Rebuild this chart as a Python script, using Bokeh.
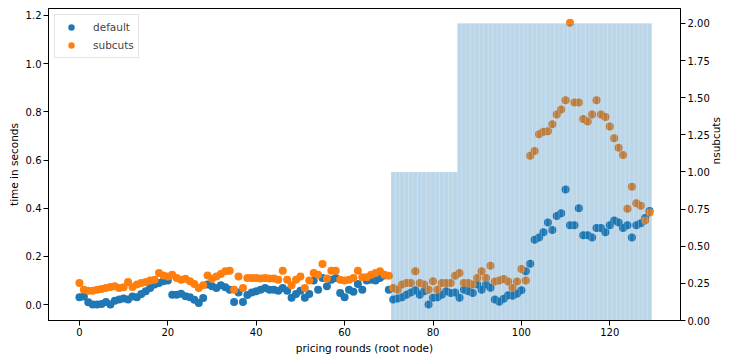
import math
from bokeh.plotting import figure
from bokeh.models import (Range1d, LinearAxis, FixedTicker, NumeralTickFormatter,
                          Legend, LegendItem, ColumnDataSource)
from bokeh.embed import file_html
from bokeh.resources import INLINE

# time in seconds per pricing round (root node)
default_t = [
    0.030, 0.034, 0.010, 0.000, 0.000, 0.003, 0.011, 0.000, 0.016, 0.021,
    0.025, 0.021, 0.034, 0.030, 0.044, 0.055, 0.069, 0.083, 0.090, 0.097,
    0.100, 0.041, 0.041, 0.045, 0.035, 0.030, 0.020, 0.007, 0.027, 0.083,
    0.076, 0.069, 0.080, 0.072, 0.062, 0.011, 0.050, 0.011, 0.040, 0.050,
    0.055, 0.062, 0.069, 0.062, 0.062, 0.058, 0.069, 0.058, 0.028, 0.044,
    0.058, 0.028, 0.044, 0.100, 0.062, 0.110, 0.076, 0.103, 0.110, 0.048,
    0.030, 0.062, 0.053, 0.085, 0.062, 0.100, 0.103, 0.100, 0.110, 0.121,
    0.062, 0.021, 0.025, 0.030, 0.041, 0.050, 0.060, 0.041, 0.055, 0.000,
    0.028, 0.030, 0.041, 0.055, 0.048, 0.050, 0.028, 0.062, 0.055, 0.048,
    0.083, 0.062, 0.083, 0.070, 0.021, 0.012, 0.024, 0.039, 0.037, 0.045,
    0.060, 0.138, 0.170, 0.269, 0.279, 0.300, 0.341, 0.310, 0.368, 0.379,
    0.478, 0.329, 0.329, 0.400, 0.288, 0.288, 0.279, 0.318, 0.318, 0.300,
    0.329, 0.349, 0.341, 0.318, 0.329, 0.279, 0.329, 0.338, 0.359, 0.389,
]
subcuts_t = [
    0.090, 0.062, 0.058, 0.058, 0.062, 0.065, 0.069, 0.073, 0.076, 0.069,
    0.072, 0.094, 0.073, 0.083, 0.090, 0.094, 0.100, 0.103, 0.131, 0.121,
    0.117, 0.124, 0.110, 0.103, 0.107, 0.097, 0.086, 0.069, 0.080, 0.121,
    0.107, 0.117, 0.127, 0.138, 0.141, 0.062, 0.117, 0.069, 0.110, 0.110,
    0.110, 0.108, 0.110, 0.108, 0.108, 0.103, 0.141, 0.103, 0.080, 0.103,
    0.117, 0.069, 0.100, 0.131, 0.124, 0.168, 0.108, 0.141, 0.141, 0.103,
    0.100, 0.103, 0.110, 0.141, 0.113, 0.113, 0.124, 0.131, 0.138, 0.124,
    0.120, 0.069, 0.062, 0.083, 0.090, 0.090, 0.138, 0.090, 0.083, 0.062,
    0.097, 0.062, 0.090, 0.090, 0.090, 0.120, 0.131, 0.090, 0.090, 0.083,
    0.110, 0.138, 0.110, 0.161, 0.096, 0.100, 0.106, 0.096, 0.069, 0.096,
    0.148, 0.100, 0.618, 0.638, 0.707, 0.717, 0.720, 0.749, 0.789, 0.810,
    0.848, 1.170, 0.839, 0.839, 0.770, 0.760, 0.789, 0.848, 0.789, 0.779,
    0.739, 0.690, 0.651, 0.621, 0.398, 0.489, 0.421, 0.410, 0.349, 0.382,
]
rounds = list(range(len(default_t)))

# number of subcuts (bars, right axis)
bar_rounds = list(range(71, 130))
nsubcuts = [1, 1, 1, 1, 1, 1, 1, 1, 1, 1, 1, 1, 1, 1, 1,
            2, 2, 2, 2, 2, 2, 2, 2, 2, 2, 2, 2, 2, 2, 2, 2, 2, 2, 2, 2, 2, 2,
            2, 2, 2, 2, 2, 2, 2, 2, 2, 2, 2, 2, 2, 2, 2, 2, 2, 2, 2, 2, 2, 2]

x_ticks = [0, 20, 40, 60, 80, 100, 120]
y_ticks = [0.0, 0.2, 0.4, 0.6, 0.8, 1.0, 1.2]
n_ticks = [0.0, 0.25, 0.5, 0.75, 1.0, 1.25, 1.5, 1.75, 2.0]

FONT = "DejaVu Sans"

p = figure(width=730, height=356, output_backend="svg", toolbar_location=None,
           x_range=Range1d(-7, 136), y_range=Range1d(-0.066, 1.229),
           min_border_left=48, min_border_right=45, min_border_top=8,
           min_border_bottom=35)
p.extra_y_ranges = {"n": Range1d(0, 2.1)}

p.xgrid.visible = False
p.ygrid.visible = False
p.outline_line_color = "black"
p.outline_line_width = 1
p.background_fill_color = "white"
p.border_fill_color = "white"

src = ColumnDataSource(dict(x=rounds, d=default_t, s=subcuts_t))
r_def = p.scatter("x", "d", source=src, size=8, color="#1f77b4", line_color=None)
r_sub = p.scatter("x", "s", source=src, size=8, color="#ff7f0e", line_color=None)

bsrc = ColumnDataSource(dict(x=bar_rounds, n=nsubcuts))
p.vbar(x="x", top="n", bottom=0, width=1.0, source=bsrc, y_range_name="n",
       fill_color="#1f77b4", fill_alpha=0.3, line_color="white",
       line_alpha=0.3, line_width=0.5)

right = LinearAxis(y_range_name="n")
p.add_layout(right, "right")

def style(ax):
    ax.axis_line_color = "black"
    ax.major_tick_line_color = "black"
    ax.minor_tick_line_color = None
    ax.major_tick_out = 5
    ax.major_tick_in = 0
    ax.major_label_text_font = FONT
    ax.major_label_text_font_size = "10px"
    ax.major_label_text_color = "black"
    ax.axis_label_text_font = FONT
    ax.axis_label_text_font_size = "10.5px"
    ax.axis_label_text_font_style = "normal"
    ax.axis_label_text_color = "black"
    ax.major_label_standoff = 2
    ax.axis_label_standoff = 3

left = p.yaxis[0]
bottom = p.xaxis[0]
bottom.axis_label = "pricing rounds (root node)"
bottom.ticker = FixedTicker(ticks=x_ticks)
left.axis_label = "time in seconds"
left.ticker = FixedTicker(ticks=y_ticks)
left.formatter = NumeralTickFormatter(format="0.0")
right.axis_label = "nsubcuts"
right.ticker = FixedTicker(ticks=n_ticks)
right.formatter = NumeralTickFormatter(format="0.00")
for ax in [bottom, left, right]:
    style(ax)
if "axis_label_orientation" in right.properties():
    right.axis_label_orientation = math.pi / 2

legend = Legend(items=[LegendItem(label="default", renderers=[r_def]),
                       LegendItem(label="subcuts", renderers=[r_sub])],
                location="top_left")
legend.label_text_font = FONT
legend.label_text_font_size = "10.5px"
legend.border_line_color = "#cccccc"
legend.border_line_width = 1
legend.background_fill_alpha = 0.8
legend.margin = 6
legend.padding = 4
legend.spacing = 2
legend.glyph_height = 16
legend.glyph_width = 24
legend.label_standoff = 10
legend.label_height = 14
p.add_layout(legend)

open("out.html", "w").write(file_html(p, INLINE))
